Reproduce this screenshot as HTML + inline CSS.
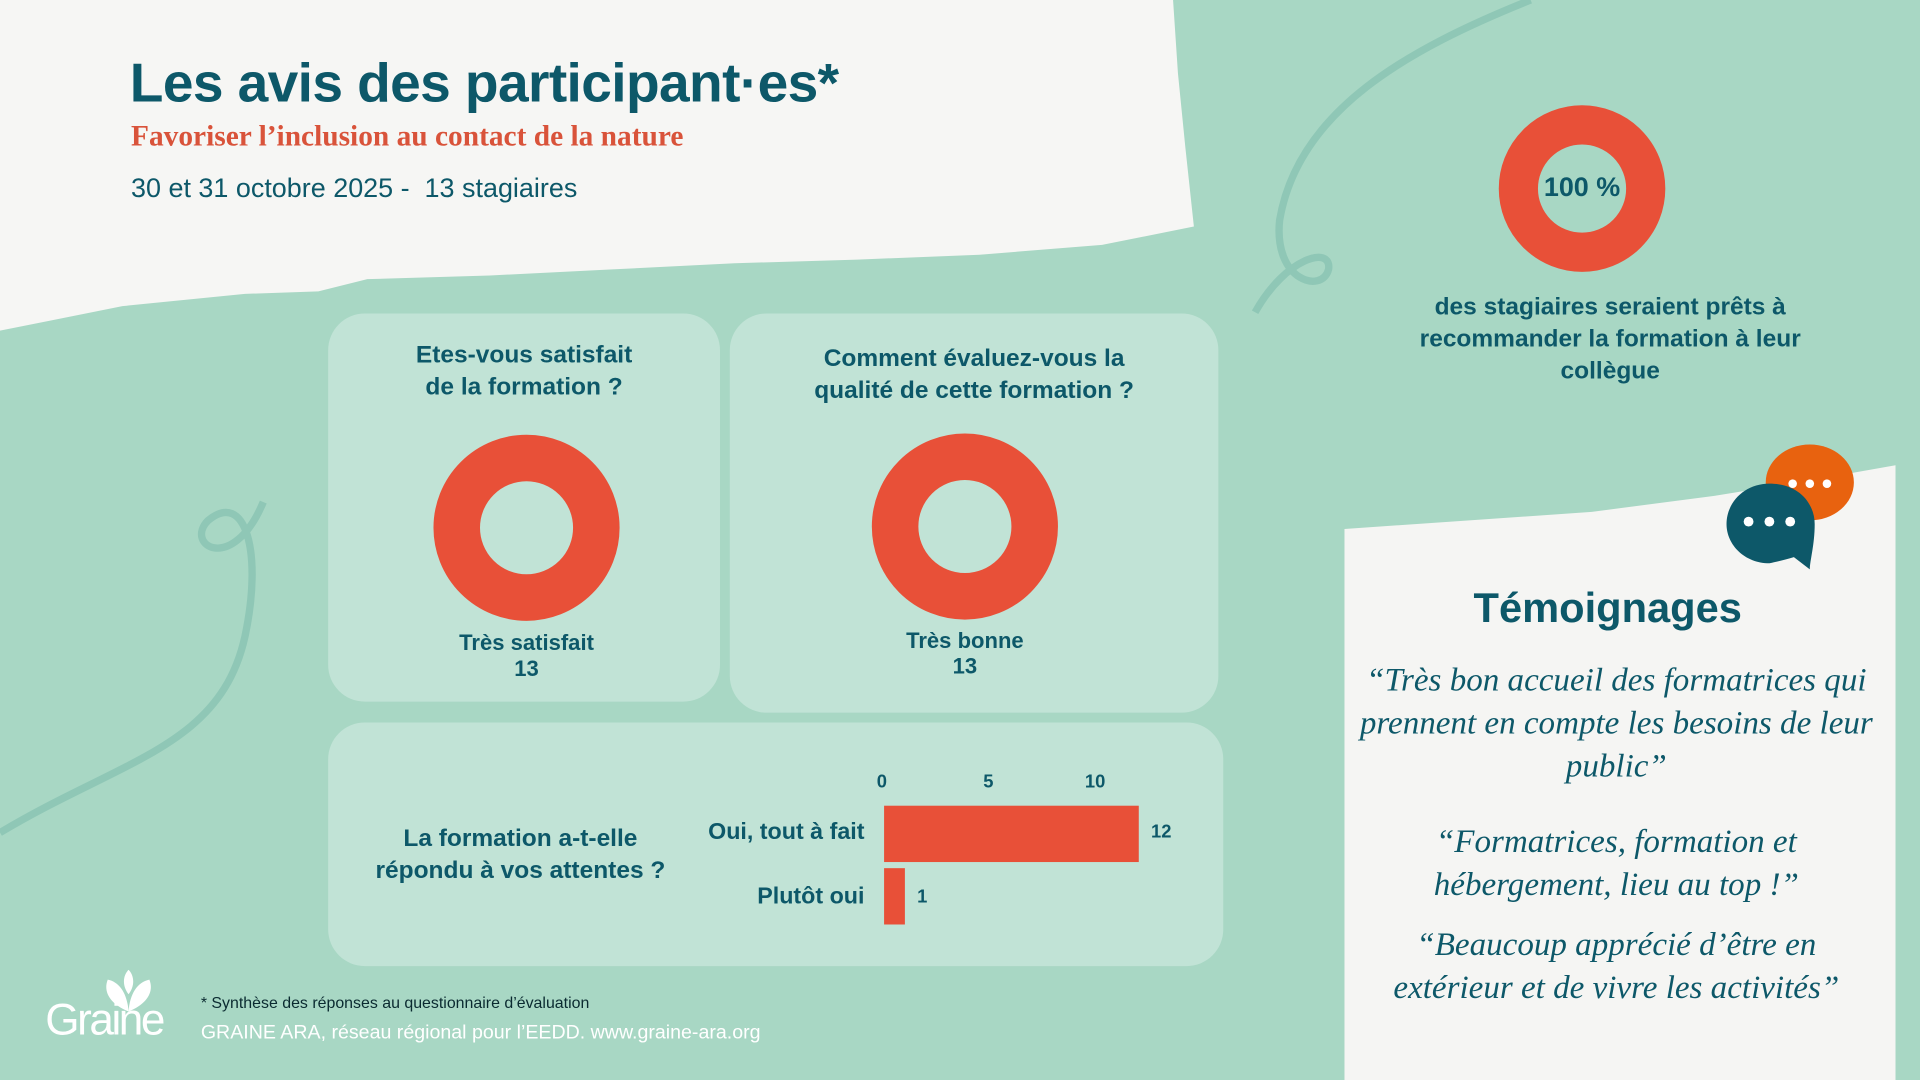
<!DOCTYPE html>
<html><head><meta charset="utf-8"><style>
html,body{margin:0;padding:0;width:1920px;height:1080px;overflow:hidden;background:#a8d7c4}
#w{position:absolute;left:0;top:0;width:1568px;height:882px;transform:scale(1.22449);transform-origin:0 0;font-family:"Liberation Sans",sans-serif;color:#0d5869}
.a{position:absolute}
.panel{position:absolute;background:#c1e3d6;border-radius:30px}
.q{position:absolute;font-weight:bold;font-size:20px;text-align:center;color:#0d5869;line-height:26px}
.lab{position:absolute;font-weight:bold;font-size:18px;text-align:center;line-height:21px}
.t{position:absolute;font-family:"Liberation Serif",serif;font-style:italic;font-size:27px;text-align:center;color:#0d5869;line-height:35px}
</style></head><body><div id="w">
<svg class="a" style="left:0;top:0" width="1568" height="882">
<path d="M0,0 L958,0 L962,60 L968,120 L975,185 L900,200 L800,208 L700,212 L600,215 L500,220 L400,225 L300,228 L260,238 L200,240 L100,250 L40,262 L0,270 Z" fill="#f6f6f4"/>
<path d="M1098,432 L1200,425 L1300,418 L1400,405 L1480,392 L1548,380 L1548,882 L1098,882 Z" fill="#f5f5f3"/>
<path d="M0,680 C100,620 180,610 200,520 C215,450 200,400 170,425 C150,445 190,470 215,410" fill="none" stroke="#8fc7b6" stroke-width="6"/>
<path d="M1250,0 C1150,40 1060,90 1045,180 C1040,230 1080,240 1085,220 C1088,200 1050,210 1025,255" fill="none" stroke="#8fc7b6" stroke-width="6"/>
<circle cx="1292" cy="154" r="52" fill="none" stroke="#e85038" stroke-width="32"/>
<ellipse cx="1478" cy="394" rx="36" ry="31" fill="#e8620f"/>
<circle cx="1464" cy="395" r="3.5" fill="#fff"/><circle cx="1478" cy="395" r="3.5" fill="#fff"/><circle cx="1492" cy="395" r="3.5" fill="#fff"/>
<path d="M1445,395 C1470,395 1482,412 1482,428 C1482,445 1478,458 1478,465 L1465,455 C1455,458 1445,460 1445,460 C1425,460 1410,445 1410,428 C1410,410 1425,395 1445,395 Z" fill="#0d5869"/>
<circle cx="1428" cy="426" r="4" fill="#fff"/><circle cx="1445" cy="426" r="4" fill="#fff"/><circle cx="1462" cy="426" r="4" fill="#fff"/>
</svg>
<div class="a" style="left:106px;top:42px;font-size:45px;font-weight:bold;letter-spacing:-0.5px">Les avis des participant·es*</div>
<div class="a" style="left:107px;top:99px;font-size:24px;font-weight:bold;color:#d9533a;font-family:'Liberation Serif',serif">Favoriser l’inclusion au contact de la nature</div>
<div class="a" style="left:107px;top:141px;font-size:22px">30 et 31 octobre 2025 -&nbsp; 13 stagiaires</div>

<div class="panel" style="left:268px;top:256px;width:320px;height:317px"></div>
<div class="panel" style="left:596px;top:256px;width:399px;height:326px"></div>
<div class="panel" style="left:268px;top:590px;width:731px;height:199px"></div>

<svg class="a" style="left:350px;top:351px" width="160" height="160"><circle cx="80" cy="80" r="57" fill="none" stroke="#e85038" stroke-width="38"/></svg>
<svg class="a" style="left:708px;top:350px" width="160" height="160"><circle cx="80" cy="80" r="57" fill="none" stroke="#e85038" stroke-width="38"/></svg>

<div class="q" style="left:268px;top:277px;width:320px">Etes-vous satisfait<br>de la formation ?</div>
<div class="q" style="left:596px;top:280px;width:399px">Comment évaluez-vous la<br>qualité de cette formation ?</div>
<div class="lab" style="left:330px;top:515px;width:200px">Très satisfait<br>13</div>
<div class="lab" style="left:688px;top:513px;width:200px">Très bonne<br>13</div>

<div class="q" style="left:280px;top:672px;width:290px">La formation a-t-elle<br>répondu à vos attentes ?</div>
<div class="a" style="left:716px;top:630px;font-weight:bold;font-size:15px">0</div>
<div class="a" style="left:803px;top:630px;font-weight:bold;font-size:15px">5</div>
<div class="a" style="left:886px;top:630px;font-weight:bold;font-size:15px">10</div>
<div class="a" style="left:722px;top:658px;width:208px;height:46px;background:#e85038"></div>
<div class="a" style="left:722px;top:709px;width:17px;height:46px;background:#e85038"></div>
<div class="a" style="left:540px;top:669px;width:166px;text-align:right;font-weight:bold;font-size:19px">Oui, tout à fait</div>
<div class="a" style="left:540px;top:722px;width:166px;text-align:right;font-weight:bold;font-size:19px">Plutôt oui</div>
<div class="a" style="left:940px;top:671px;font-weight:bold;font-size:15px">12</div>
<div class="a" style="left:749px;top:724px;font-weight:bold;font-size:15px">1</div>

<div class="a" style="left:1242px;top:140px;width:100px;text-align:center;font-weight:bold;font-size:22px">100 %</div>
<div class="q" style="left:1120px;top:238px;width:390px">des stagiaires seraient prêts à<br>recommander la formation à leur<br>collègue</div>

<div class="a" style="left:1098px;top:478px;width:430px;text-align:center;font-size:34px;font-weight:bold">Témoignages</div>
<div class="t" style="left:1110px;top:538px;width:420px">“Très bon accueil des formatrices qui prennent en compte les besoins de leur public”</div>
<div class="t" style="left:1110px;top:670px;width:420px">“Formatrices, formation et<br>hébergement, lieu au top !”</div>
<div class="t" style="left:1110px;top:754px;width:420px">“Beaucoup apprécié d’être en<br>extérieur et de vivre les activités”</div>

<svg class="a" style="left:80px;top:792px" width="50" height="36"><path d="M25,34 C10,28 4,18 8,8 C18,10 24,20 25,34 Z M25,34 C40,28 46,18 42,8 C32,10 26,20 25,34 Z M25,20 C19,12 21,4 25,0 C29,4 31,12 25,20Z" fill="#fff"/></svg>
<div class="a" style="left:37px;top:812px;font-size:36px;color:#fff;letter-spacing:-2px">Graine</div>
<div class="a" style="left:164px;top:811px;font-size:13px;color:#0a2a30">* Synthèse des réponses au questionnaire d’évaluation</div>
<div class="a" style="left:164px;top:835px;font-size:16px;color:#fff">GRAINE ARA, réseau régional pour l’EEDD. www.graine-ara.org</div>
</div></body></html>
